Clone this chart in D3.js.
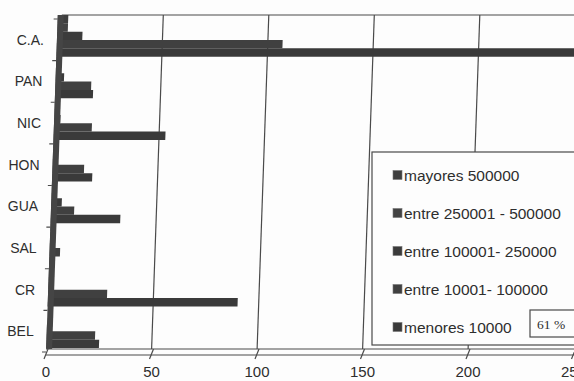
<!DOCTYPE html>
<html>
<head>
<meta charset="utf-8">
<script src="https://cdn.jsdelivr.net/npm/d3@7"></script>
<style>
  html, body { margin: 0; padding: 0; background: #fdfdfd; }
  svg { display: block; }
  text { font-family: "Liberation Sans", Arial, sans-serif; fill: #2e2e2e; }
</style>
</head>
<body>
<svg id="chart" width="574" height="381"></svg>
<script>
// Countries of the isthmus (C.A. = Central America total)
const categories = ["C.A.", "PAN", "NIC", "HON", "GUA", "SAL", "CR", "BEL"];

// Size classes of localities
const seriesNames = [
  "mayores 500000",
  "entre 250001 - 500000",
  "entre 100001- 250000",
  "entre 10001- 100000",
  "menores 10000"
];

// Counts per class, in the order of `categories`
const mayores500000      = [5, 1, 1, 1, 1, 1, 1, 0];
const entre250001_500000 = [5, 1, 1, 1, 2, 1, 1, 0];
const entre100001_250000 = [12, 4, 3, 1, 5, 1, 1, 1];
const entre10001_100000  = [107, 17, 18, 15, 11, 5, 28, 23];
const menores10000       = [262, 18, 53, 19, 33, 2, 90, 25];

const seriesValues = [mayores500000, entre250001_500000, entre100001_250000,
                      entre10001_100000, menores10000];

const xTicks = [0, 50, 100, 150, 200, 250];
const noteText = "61 %";

// ---------------------------------------------------------------
const W = 574, H = 381;
const svg = d3.select("#chart");

svg.append("rect").attr("width", W).attr("height", H).attr("fill", "#fdfdfd");

const x = d3.scaleLinear().domain([0, 250]).range([46, 573.5]);
const y = d3.scaleBand().domain(categories).range([15, 348]).padding(0);
const ySub = d3.scaleBand().domain(seriesNames).range([0, y.bandwidth()]).padding(0);

// the plot is drawn with a slight oblique slant, leaning right toward the top
const baseY = 352, shear = 0.035;
const slantDeg = -Math.atan(shear) * 180 / Math.PI;
const sx = (px, py) => px + (baseY - py) * shear;

const defs = svg.append("defs");
defs.append("clipPath").attr("id", "plotClip")
  .append("rect").attr("x", x(0) - 8).attr("y", 8).attr("width", 700).attr("height", 345);

const plot = svg.append("g")
  .attr("transform", `translate(0,${baseY}) skewX(${slantDeg}) translate(0,${-baseY})`)
  .attr("clip-path", "url(#plotClip)");

const ink = "#4a4a4a";
const barFill = ["#3e3e3e", "#434343", "#3b3b3b", "#404040", "#3a3a3a"];

// vertical gridlines
plot.selectAll("line.grid")
  .data(xTicks.filter(v => v > 0 && v < 250))
  .join("line")
  .attr("class", "grid")
  .attr("x1", d => x(d)).attr("x2", d => x(d))
  .attr("y1", 15).attr("y2", 349)
  .attr("stroke", ink).attr("stroke-width", 1.2);

// top edge of the plot area
plot.append("line")
  .attr("x1", x(0) + 4).attr("x2", 700)
  .attr("y1", 15).attr("y2", 15)
  .attr("stroke", ink).attr("stroke-width", 1.2);

// bars
const rows = [];
categories.forEach((c, ci) => {
  seriesNames.forEach((s, si) => rows.push({ cat: c, ser: s, si, v: seriesValues[si][ci] }));
});
plot.selectAll("rect.bar")
  .data(rows)
  .join("rect")
  .attr("class", "bar")
  .attr("x", x(0))
  .attr("y", d => y(d.cat) + ySub(d.ser))
  .attr("width", d => Math.max(0, x(d.v) - x(0)))
  .attr("height", ySub.bandwidth())
  .attr("fill", d => barFill[d.si]);

// axis wall
plot.append("rect")
  .attr("x", x(0)).attr("y", 15)
  .attr("width", 6).attr("height", 334)
  .attr("fill", "#454545");

// category tick marks
const tickYs = d3.range(categories.length + 1).map(i => y.range()[0] + 4 + i * y.step());
plot.selectAll("line.ytick")
  .data(tickYs)
  .join("line")
  .attr("class", "ytick")
  .attr("x1", x(0) - 4).attr("x2", x(0))
  .attr("y1", d => d).attr("y2", d => d)
  .attr("stroke", ink).attr("stroke-width", 1.2);

// floor edges
[349, 355].forEach(yy => {
  svg.append("line")
    .attr("x1", x(0)).attr("x2", W)
    .attr("y1", yy).attr("y2", yy)
    .attr("stroke", ink).attr("stroke-width", 1.2);
});
svg.selectAll("line.xtick")
  .data(xTicks)
  .join("line")
  .attr("class", "xtick")
  .attr("x1", d => x(d) + 2).attr("x2", d => x(d) - 2)
  .attr("y1", 349).attr("y2", 359)
  .attr("stroke", ink).attr("stroke-width", 1.2);

// x tick labels
svg.selectAll("text.xlab")
  .data(xTicks)
  .join("text")
  .attr("class", "xlab")
  .attr("x", d => x(d))
  .attr("y", 377)
  .attr("text-anchor", "middle")
  .style("font-size", "15px")
  .text(d => d);

// category labels
svg.selectAll("text.ylab")
  .data(categories)
  .join("text")
  .attr("class", "ylab")
  .attr("x", d => sx(33, y(d) + 4 + y.bandwidth() / 2))
  .attr("y", d => y(d) + 4 + y.bandwidth() / 2)
  .attr("dy", "0.36em")
  .attr("text-anchor", "end")
  .style("font-size", "14px")
  .text(d => d);

// legend
const legend = svg.append("g");
legend.append("rect")
  .attr("x", 372).attr("y", 152)
  .attr("width", 220).attr("height", 193)
  .attr("fill", "#fdfdfd").attr("stroke", ink).attr("stroke-width", 1.2);

const legY = d3.scalePoint().domain(seriesNames).range([175, 327]);
const item = legend.selectAll("g.item")
  .data(seriesNames)
  .join("g")
  .attr("class", "item")
  .attr("transform", d => `translate(0,${legY(d)})`);
item.append("rect")
  .attr("x", 393).attr("y", -4.5)
  .attr("width", 9).attr("height", 9)
  .attr("fill", (d, i) => barFill[i])
  .attr("stroke", "#777").attr("stroke-width", 0.6);
item.append("text")
  .attr("x", 404).attr("y", 0)
  .attr("dy", "0.36em")
  .style("font-size", "15.5px")
  .text(d => d);

// note box
legend.append("rect")
  .attr("x", 530).attr("y", 310)
  .attr("width", 60).attr("height", 27)
  .attr("fill", "#fdfdfd").attr("stroke", ink).attr("stroke-width", 1.2);
legend.append("text")
  .attr("x", 537).attr("y", 329)
  .style("font-family", "'Liberation Serif', 'Times New Roman', serif")
  .style("font-size", "13.5px")
  .text(noteText);
</script>
</body>
</html>
